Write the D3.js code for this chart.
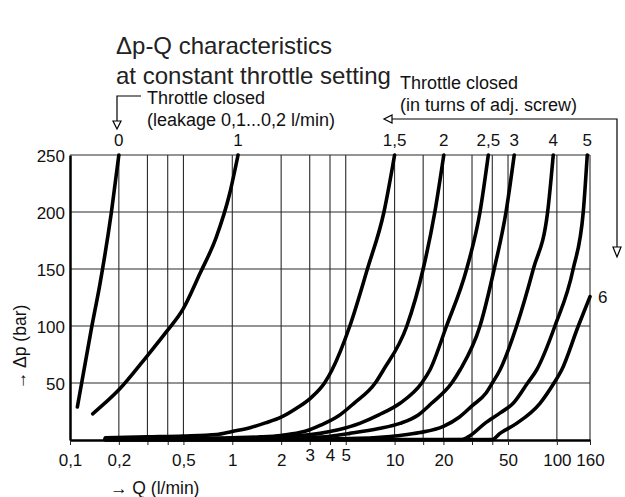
<!DOCTYPE html>
<html>
<head>
<meta charset="utf-8">
<script src="https://cdn.jsdelivr.net/npm/d3@7/dist/d3.min.js"></script>
<style>
  body { margin: 0; background: #fff; }
  svg { display: block; font-family: "Liberation Sans", Arial, sans-serif; }
</style>
</head>
<body>
<svg id="chart" width="625" height="497"></svg>
<script>
// axis values
const xGrid = [0.2, 0.3, 0.4, 0.5, 1, 2, 3, 4, 5, 10, 15, 20, 30, 40, 50, 100, 160];
const xLabels = [0.1, 0.2, 0.5, 1, 2, 3, 4, 5, 10, 20, 50, 100, 160];
const xRaised = [3, 4, 5];
const yTicks = [50, 100, 150, 200, 250];

// curves: Q (l/min) and delta p (bar), labelled in turns of the adj. screw
const curveNames = ["0", "1", "1,5", "2", "2,5", "3", "4", "5", "6"];
const q_0 = [0.111, 0.136, 0.153, 0.18, 0.2];
const p_0 = [29, 99, 137, 200, 250];
const q_1 = [0.138, 0.2, 0.296, 0.393, 0.498, 0.632, 0.797, 0.963, 1.085];
const p_1 = [23, 44, 73, 95, 115, 146, 178, 216, 250];
const q_15 = [0.165, 0.3, 0.5, 0.8, 1.0, 1.3, 1.6, 2.0, 2.5, 3.05, 3.7, 4.1, 5.3, 6.8, 8.6, 10];
const p_15 = [2, 2.8, 3.5, 4.8, 7.5, 11, 15, 20, 28, 37, 50, 61, 100, 150, 200, 250];
const q_2 = [0.165, 0.5, 1.0, 1.5, 2.0, 2.6, 3.0, 3.5, 4.5, 5.6, 7.6, 8.5, 11.9, 15.0, 17.7, 20.1];
const p_2 = [1.3, 1.5, 2, 2.7, 4, 6.5, 9, 13, 21, 32, 50, 61, 100, 150, 200, 250];
const q_25 = [0.165, 1.0, 2.0, 3.47, 4.5, 6.1, 8.0, 10.8, 14.7, 16.5, 20.9, 27.8, 33.6, 37.8];
const p_25 = [0.9, 1.2, 2.5, 5.8, 9, 14.6, 22, 32.2, 50, 61.4, 100, 150, 200, 250];
const q_3 = [0.165, 2.0, 3.5, 5.3, 8.0, 10.8, 14.0, 16.9, 22.5, 25.3, 33.6, 41.1, 48.6, 54.6];
const p_3 = [0.6, 1, 2.5, 5.8, 10, 14.6, 22, 32.2, 50, 61.4, 100, 150, 200, 250];
const q_4 = [0.165, 2, 6, 10.8, 14.3, 20, 25, 30, 36.5, 40, 44.6, 56.5, 71.6, 87.7, 95];
const p_4 = [0.5, 0.6, 1.5, 4, 6.5, 12, 20, 30, 41, 50, 61.4, 100, 150, 200, 250];
const q_5 = [0.165, 10, 26, 29.3, 36, 45, 53.8, 66, 75, 97.3, 126, 145.4, 153.9];
const p_5 = [0.3, 0.4, 0.5, 4, 14.6, 24, 32.2, 50, 61.4, 100, 150, 200, 250];
const q_6 = [0.165, 20, 40, 44.6, 56.5, 78.7, 96, 107, 135.5, 160];
const p_6 = [0.2, 0.2, 0.3, 5.8, 14.6, 32.2, 50, 61.4, 100, 125.7];

const qs = [q_0, q_1, q_15, q_2, q_25, q_3, q_4, q_5, q_6];
const ps = [p_0, p_1, p_15, p_2, p_25, p_3, p_4, p_5, p_6];

const width = 625, height = 497;
const margin = { top: 155, right: 35, bottom: 57, left: 70 };

const series = curveNames.map((name, i) => ({
  name,
  points: qs[i].map((q, j) => ({ q, p: ps[i][j] })),
}));

const svg = d3.select("#chart");

const x = d3.scaleLog().domain([0.1, 160]).range([margin.left, width - margin.right]);
const y = d3.scaleLinear().domain([0, 250]).range([height - margin.bottom, margin.top]);

const fmt = (d) => String(d).replace(".", ",");

// grid
svg.append("g")
  .selectAll("line")
  .data(xGrid)
  .join("line")
  .attr("x1", (d) => x(d)).attr("x2", (d) => x(d))
  .attr("y1", y(0)).attr("y2", y(250))
  .attr("stroke", "#2a2a2a").attr("stroke-width", 1.1);

svg.append("g")
  .selectAll("line")
  .data(yTicks)
  .join("line")
  .attr("x1", x(0.1)).attr("x2", x(160))
  .attr("y1", (d) => y(d)).attr("y2", (d) => y(d))
  .attr("stroke", "#2a2a2a").attr("stroke-width", 1.1);

// x axis
svg.append("g")
  .attr("transform", `translate(0,${y(0)})`)
  .call(
    d3.axisBottom(x)
      .tickValues([0.1, ...xGrid])
      .tickSize(5)
      .tickSizeOuter(0)
      .tickPadding(9)
      .tickFormat((d) => (xLabels.includes(d) ? fmt(d) : ""))
  )
  .call((g) => g.select(".domain").attr("stroke", "#000").attr("stroke-width", 2.5))
  .call((g) => g.selectAll(".tick line").attr("stroke", "#222"))
  .call((g) =>
    g.selectAll(".tick text")
      .attr("font-family", "Liberation Sans, Arial, sans-serif")
      .attr("font-size", 17)
      .attr("fill", "#111")
      .attr("dy", (d) => (xRaised.includes(d) ? "0.41em" : "0.71em"))
  );

// y axis
svg.append("g")
  .attr("transform", `translate(${x(0.1)},0)`)
  .call(d3.axisLeft(y).tickValues(yTicks).tickSize(0).tickSizeOuter(0).tickPadding(5))
  .call((g) => g.select(".domain").attr("stroke", "#000").attr("stroke-width", 2.5))
  .call((g) =>
    g.selectAll(".tick text")
      .attr("font-family", "Liberation Sans, Arial, sans-serif")
      .attr("font-size", 17)
      .attr("fill", "#111")
      .attr("dy", "0.4em")
  );

// curves
const line = d3.line()
  .x((d) => x(d.q))
  .y((d) => y(d.p))
  .curve(d3.curveMonotoneX);

svg.append("g")
  .selectAll("path")
  .data(series)
  .join("path")
  .attr("d", (d) => line(d.points))
  .attr("fill", "none")
  .attr("stroke", "#000")
  .attr("stroke-width", 3.6)
  .attr("stroke-linecap", "round")
  .attr("stroke-linejoin", "round");

// curve labels
const topSeries = series.filter((s) => s.points[s.points.length - 1].p >= 250);
svg.append("g")
  .selectAll("text")
  .data(topSeries)
  .join("text")
  .attr("x", (d) => x(d.points[d.points.length - 1].q))
  .attr("y", margin.top - 9)
  .attr("text-anchor", "middle")
  .attr("font-size", 17)
  .attr("fill", "#111")
  .text((d) => d.name);

const lastSeries = series[series.length - 1];
const lastPt = lastSeries.points[lastSeries.points.length - 1];
svg.append("text")
  .attr("x", x(lastPt.q) + 8)
  .attr("y", y(lastPt.p) + 6)
  .attr("font-size", 17)
  .attr("fill", "#111")
  .text(lastSeries.name);

// titles
svg.append("text").attr("x", 116).attr("y", 54).attr("font-size", 24).attr("fill", "#222")
  .text("Δp-Q characteristics");
svg.append("text").attr("x", 116).attr("y", 84).attr("font-size", 24).attr("fill", "#222")
  .text("at constant throttle setting");

// annotations
svg.append("text").attr("x", 147).attr("y", 104).attr("font-size", 18).attr("fill", "#111")
  .text("Throttle closed");
svg.append("text").attr("x", 147).attr("y", 126).attr("font-size", 18).attr("fill", "#111")
  .text("(leakage 0,1...0,2 l/min)");
svg.append("text").attr("x", 400).attr("y", 89).attr("font-size", 18).attr("fill", "#111")
  .text("Throttle closed");
svg.append("text").attr("x", 400).attr("y", 111).attr("font-size", 18).attr("fill", "#111")
  .text("(in turns of adj. screw)");

// arrows
const arrows = svg.append("g").attr("fill", "#fff").attr("stroke", "#000").attr("stroke-width", 1.2);
arrows.append("path").attr("fill", "none").attr("d", "M141,96H117V121");
arrows.append("path").attr("d", "M113,121H121L117,129Z");
arrows.append("path").attr("fill", "none").attr("d", "M392,119H617V247");
arrows.append("path").attr("d", "M392,115V123L384,119Z");
arrows.append("path").attr("d", "M613,247H621L617,257Z");

// axis titles
svg.append("text").attr("x", 110).attr("y", 494).attr("font-size", 17.5).attr("fill", "#111")
  .text("→ Q (l/min)");
svg.append("text")
  .attr("transform", "translate(26,347) rotate(-90)")
  .attr("text-anchor", "middle")
  .attr("font-size", 17.5)
  .attr("fill", "#111")
  .text("→ Δp (bar)");
</script>
</body>
</html>
